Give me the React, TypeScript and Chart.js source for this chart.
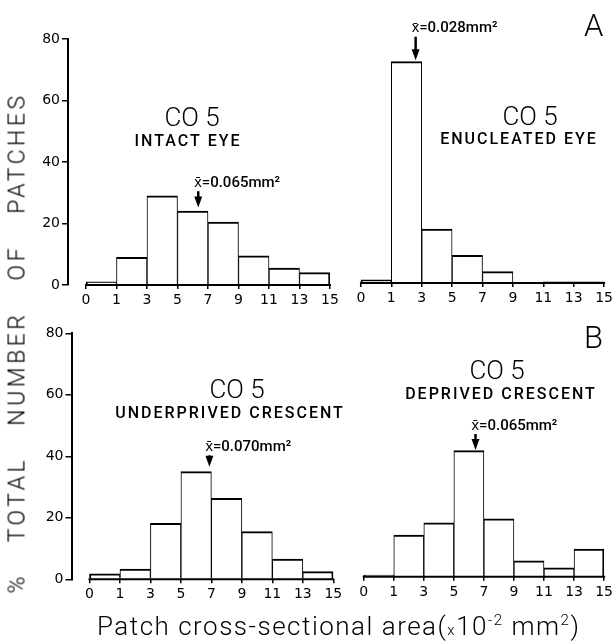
import React, { useEffect, useRef } from "react";
import { Chart, registerables } from "chart.js";

Chart.register(...registerables);

// ---- data ----
const binEdges = ["0", "1", "3", "5", "7", "9", "11", "13", "15"];
const binEdgeValues = [0, 1, 3, 5, 7, 9, 11, 13, 15];
const yTickValues = [0, 20, 40, 60, 80];

const intactEye = [1, 9, 29, 24, 20.5, 9.5, 5.5, 4];
const enucleatedEye = [1, 72, 17.5, 9, 3.7, 0, 0.4, 0.4];
const underprivedCrescent = [1.8, 3.3, 18.2, 35, 26.3, 15.5, 6.6, 2.5];
const deprivedCrescent = [0.5, 13.5, 17.5, 41, 18.8, 5.2, 2.9, 9];

const panelTitles = ["CO 5", "CO 5", "CO 5", "CO 5"];
const panelSubtitles = ["INTACT EYE", "ENUCLEATED EYE", "UNDERPRIVED CRESCENT", "DEPRIVED CRESCENT"];
const meanLabels = ["x\u0304=0.065mm\u00B2", "x\u0304=0.028mm\u00B2", "x\u0304=0.070mm\u00B2", "x\u0304=0.065mm\u00B2"];
const meanAreas = [6.36, 2.6, 6.87, 6.44]; // x10^-2 mm^2, where the arrow points
const arrowTips = [25.2, 72.4, 36.6, 41.2]; // % level of arrow tip
const meanLabelLevels = [33.1, 82.7, 42.9, 49]; // % level of label centre

const seriesList = [intactEye, enucleatedEye, underprivedCrescent, deprivedCrescent];

// ---- layout (page pixels) ----
const W = 616;
const H = 641;
const X_MIN = -0.59;
const Y_BOX = 40;
const X_BOX = 30;
const panels = [
  { left: 68, right: 330, top: 39, bottom: 285, yAxis: true, titleX: 192, titleY: 119, subX: 188, subY: 142 },
  { left: 343, right: 605.7, top: 37, bottom: 283, yAxis: false, titleX: 530, titleY: 118, subX: 519, subY: 140 },
  { left: 71.5, right: 333.3, top: 333.3, bottom: 579.3, yAxis: true, titleX: 237, titleY: 391, subX: 230, subY: 414 },
  { left: 346, right: 609.3, top: 330.7, bottom: 576.7, yAxis: false, titleX: 497, titleY: 372, subX: 501, subY: 395 },
];

const NUM_FONT = '"DejaVu Sans", sans-serif';
const TEXT_FONT = 'Roboto, "Liberation Sans", sans-serif';

function areaToPos(a: number): number {
  for (let i = 0; i < binEdgeValues.length - 1; i++) {
    const e0 = binEdgeValues[i];
    const e1 = binEdgeValues[i + 1];
    if (a >= e0 && a <= e1) return i + (a - e0) / (e1 - e0);
  }
  return 0;
}

function makePlugin(idx: number) {
  const p = panels[idx];
  return {
    id: "decor" + idx,
    afterDatasetsDraw(chart: any) {
      const ctx = chart.ctx as CanvasRenderingContext2D;
      const xs = chart.scales.x;
      const ys = chart.scales.y;
      ctx.save();
      // baseline
      ctx.strokeStyle = "#000";
      ctx.lineWidth = 2;
      ctx.beginPath();
      ctx.moveTo(xs.getPixelForValue(0) - 1, ys.getPixelForValue(0));
      ctx.lineTo(xs.getPixelForValue(binEdges.length - 1) + 1, ys.getPixelForValue(0));
      ctx.stroke();
      // titles
      ctx.fillStyle = "#000";
      ctx.textAlign = "center";
      ctx.textBaseline = "middle";
      ctx.font = "300 26px " + TEXT_FONT;
      ctx.fillText(panelTitles[idx], p.titleX, p.titleY);
      ctx.font = "500 16px " + TEXT_FONT;
      (ctx as any).letterSpacing = "2px";
      ctx.fillText(panelSubtitles[idx], p.subX, p.subY);
      (ctx as any).letterSpacing = "0px";
      // mean arrow + label
      const ax = xs.getPixelForValue(areaToPos(meanAreas[idx]));
      const tip = ys.getPixelForValue(arrowTips[idx]);
      const ly = ys.getPixelForValue(meanLabelLevels[idx]);
      ctx.font = "500 15px " + TEXT_FONT;
      ctx.textAlign = "left";
      ctx.fillText(meanLabels[idx], ax - 4, ly);
      const top = ly + 8;
      ctx.lineWidth = 2.5;
      ctx.beginPath();
      ctx.moveTo(ax, top);
      ctx.lineTo(ax, tip - 8);
      ctx.stroke();
      ctx.beginPath();
      ctx.moveTo(ax - 4, tip - 11);
      ctx.lineTo(ax + 4, tip - 11);
      ctx.lineTo(ax, tip);
      ctx.closePath();
      ctx.fill();
      ctx.restore();
    },
  };
}

function Panel({ idx }: { idx: number }) {
  const ref = useRef<HTMLCanvasElement | null>(null);
  useEffect(() => {
    const p = panels[idx];
    const values = seriesList[idx];
    const last = values.length - 1;
    const yBox = p.yAxis ? Y_BOX : 0;
    const chart = new Chart(ref.current as HTMLCanvasElement, {
      type: "bar",
      data: {
        datasets: [
          {
            data: values.map((v, i) => ({ x: i + 0.5, y: v })),
            backgroundColor: "#fff",
            borderColor: "#000",
            borderWidth: (c: any) => ({
              top: 2,
              left: c.dataIndex === 0 ? 2 : 1,
              right: c.dataIndex === last ? 2 : 1,
              bottom: 0,
            }),
            borderSkipped: "start",
            barPercentage: 1,
            categoryPercentage: 1,
          } as any,
        ],
      },
      options: {
        responsive: false,
        animation: false,
        events: [],
        layout: {
          padding: { left: p.left - yBox, top: p.top, right: W - p.right, bottom: H - p.bottom - X_BOX },
        },
        plugins: { legend: { display: false }, tooltip: { enabled: false } },
        scales: {
          x: {
            type: "linear",
            min: X_MIN,
            max: binEdges.length - 1,
            offset: false,
            afterBuildTicks: (s: any) => {
              s.ticks = binEdges.map((_, i) => ({ value: i }));
            },
            afterFit: (s: any) => {
              s.height = X_BOX;
            },
            grid: { display: true, offset: false, drawOnChartArea: false, drawTicks: true, tickLength: 4, color: "#000", lineWidth: 1.5 },
            border: { display: false },
            ticks: {
              autoSkip: false,
              maxRotation: 0,
              padding: 3,
              color: "#000",
              font: { family: NUM_FONT, size: 14 },
              callback: (v: any) => binEdges[v as number] ?? "",
            },
          },
          y: {
            type: "linear",
            min: 0,
            max: 80,
            display: p.yAxis,
            afterBuildTicks: (s: any) => {
              s.ticks = yTickValues.map((v) => ({ value: v }));
            },
            afterFit: (s: any) => {
              s.width = yBox;
            },
            grid: { display: true, drawOnChartArea: false, drawTicks: true, tickLength: 6, color: "#000", lineWidth: 1.5 },
            border: { display: true, color: "#000", width: 2 },
            ticks: { padding: 2, color: "#000", font: { family: NUM_FONT, size: 14 } },
          },
        },
      } as any,
      plugins: [makePlugin(idx)],
    });
    return () => chart.destroy();
  }, [idx]);
  return (
    <canvas
      ref={ref}
      width={W}
      height={H}
      style={{ position: "absolute", left: 0, top: 0, width: W, height: H }}
    />
  );
}

export default function App() {
  const txt: React.CSSProperties = { position: "absolute", fontFamily: TEXT_FONT, color: "#000", whiteSpace: "nowrap", lineHeight: 1 };
  return (
    <div style={{ position: "absolute", left: 0, top: 0, width: W, height: H, background: "#fff", overflow: "hidden" }}>
      {[0, 1, 2, 3].map((i) => (
        <Panel key={i} idx={i} />
      ))}
      <div
        style={{
          ...txt,
          left: 17,
          top: 343,
          fontSize: 23,
          fontWeight: 300,
          letterSpacing: 3.5,
          wordSpacing: 22,
          transform: "translate(-50%, -50%) rotate(-90deg)",
        }}
      >
        % TOTAL NUMBER OF PATCHES
      </div>
      <div style={{ ...txt, left: 97, top: 613, fontSize: 26, fontWeight: 300, letterSpacing: 1.5 }}>
        Patch cross-sectional area(<span style={{ fontSize: 15 }}>x</span>10<sup style={{ fontSize: 15 }}>-2</sup> mm<sup style={{ fontSize: 15 }}>2</sup>)
      </div>
      <div style={{ ...txt, left: 584, top: 10, fontSize: 31, fontWeight: 300 }}>A</div>
      <div style={{ ...txt, left: 584, top: 322, fontSize: 31, fontWeight: 300 }}>B</div>
    </div>
  );
}
